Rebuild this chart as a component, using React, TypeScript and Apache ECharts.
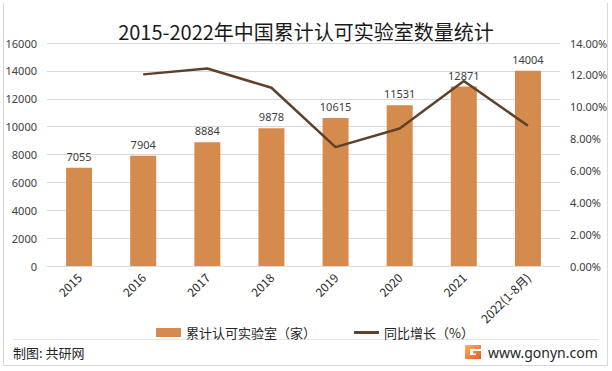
import React, { useEffect, useRef } from "react";
import * as echarts from "echarts";

const categories = ["2015", "2016", "2017", "2018", "2019", "2020", "2021", "2022(1-8月)"];
const labCounts = [7055, 7904, 8884, 9878, 10615, 11531, 12871, 14004];
const growthRates = [null, 0.1203, 0.124, 0.1119, 0.0746, 0.0863, 0.1162, 0.088];
const leftTicks = { min: 0, max: 16000, interval: 2000 };
const rightTicks = { min: 0, max: 0.14, interval: 0.02 };

const FONT = "'Noto Sans', 'Noto Sans CJK SC', sans-serif";
const CJK = "'Noto Sans CJK SC', 'Noto Sans', sans-serif";

echarts.graphic.registerShape(
  "gLogo",
  echarts.graphic.extendPath("M0,0 H16 V4 H5 V10 H11 V8.5 H8 V6 H16 V14 H0 Z", {})
);

export default function App() {
  const ref = useRef<HTMLDivElement>(null);
  useEffect(() => {
    document.body.style.margin = "0";
    if (!ref.current) return;
    const chart = echarts.init(ref.current, undefined, { renderer: "svg" });
    chart.setOption({
      animation: false,
      backgroundColor: "#ffffff",
      title: {
        text: "2015-2022年中国累计认可实验室数量统计",
        left: "center",
        top: 16,
        textStyle: { fontFamily: CJK, fontSize: 20, fontWeight: "normal", color: "#1a1a1a" },
      },
      grid: { left: 47, right: 52, top: 43, bottom: 105, containLabel: false },
      legend: {
        left: 156,
        top: 326,
        padding: 0,
        itemWidth: 25,
        itemHeight: 9,
        itemGap: 38,
        textStyle: { fontFamily: CJK, fontSize: 13, color: "#262626" },
        data: [
          { name: "累计认可实验室（家）", icon: "rect" },
          { name: "同比增长（%）", icon: "path://M0,0 L25,0 L25,3 L0,3 Z" },
        ],
      },
      xAxis: {
        type: "category",
        data: categories,
        axisTick: { show: false },
        axisLine: { lineStyle: { color: "#D9D9D9" } },
        axisLabel: { rotate: 45, fontFamily: CJK, fontSize: 12, color: "#262626", margin: 9, interval: 0 },
      },
      yAxis: [
        {
          type: "value",
          ...leftTicks,
          axisLine: { show: false },
          axisTick: { show: false },
          splitLine: { lineStyle: { color: "#D9D9D9" } },
          axisLabel: {
            fontFamily: FONT,
            fontSize: 11,
            color: "#404040",
            margin: 10,
            formatter: (v: number) => String(v),
          },
        },
        {
          type: "value",
          ...rightTicks,
          axisLine: { show: false },
          axisTick: { show: false },
          splitLine: { show: false },
          axisLabel: {
            fontFamily: FONT,
            fontSize: 11,
            color: "#404040",
            margin: 10,
            formatter: (v: number) => (v * 100).toFixed(2) + "%",
          },
        },
      ],
      series: [
        {
          name: "累计认可实验室（家）",
          type: "bar",
          data: labCounts,
          barWidth: 26,
          itemStyle: { color: "#D58B4D" },
          label: { show: true, position: "top", distance: 6, fontFamily: FONT, fontSize: 11, color: "#404040" },
        },
        {
          name: "同比增长（%）",
          type: "line",
          yAxisIndex: 1,
          data: growthRates,
          showSymbol: false,
          symbol: "none",
          lineStyle: { color: "#5E4128", width: 2.5 },
          itemStyle: { color: "#5E4128" },
        },
      ],
      graphic: [
        { type: "line", shape: { x1: 3.5, y1: 3, x2: 3.5, y2: 365.5 }, style: { stroke: "#D9D9D9", lineWidth: 1 } },
        { type: "line", shape: { x1: 607.5, y1: 3, x2: 607.5, y2: 365.5 }, style: { stroke: "#D9D9D9", lineWidth: 1 } },
        { type: "line", shape: { x1: 3.5, y1: 365.5, x2: 607.5, y2: 365.5 }, style: { stroke: "#D9D9D9", lineWidth: 1 } },
        { type: "line", shape: { x1: 13, y1: 339.5, x2: 598, y2: 339.5 }, style: { stroke: "#E6E6E6", lineWidth: 1 } },
        {
          type: "text",
          x: 13,
          y: 352,
          style: { text: "制图: 共研网", fontFamily: CJK, fontSize: 13, fill: "#262626", textVerticalAlign: "middle" },
        },
        {
          type: "gLogo",
          x: 465,
          y: 345,
          style: {
            fill: new echarts.graphic.LinearGradient(0, 0, 1, 1, [
              { offset: 0, color: "#F9B15E" },
              { offset: 1, color: "#EB5A2A" },
            ]),
          },
        },
        {
          type: "text",
          x: 488,
          y: 352,
          style: { text: "www.gonyn.com", fontFamily: FONT, fontSize: 14, fill: "#262626", textVerticalAlign: "middle" },
        },
      ],
    });
    return () => chart.dispose();
  }, []);
  return <div ref={ref} style={{ width: 612, height: 371 }} />;
}
